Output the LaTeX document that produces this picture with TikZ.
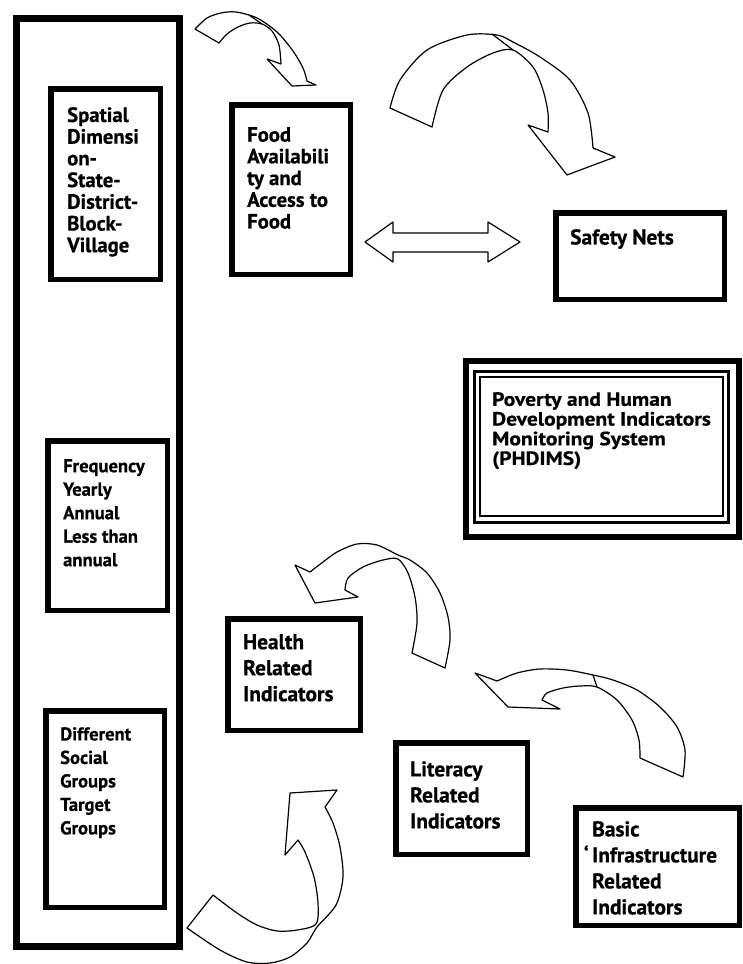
\documentclass[tikz,border=0pt]{standalone}
\usepackage{fontspec}
\setmainfont{PT Sans}[BoldFeatures={FakeBold=0.6}]
\newfontfamily\widefont{PT Sans Bold}[FakeStretch=1.12, FakeBold=0.6]
\begin{document}
\begin{tikzpicture}[x=1pt,y=-1pt,
  bx/.style={draw, line width=5.5pt, inner sep=0pt},
  tx/.style={inner sep=0pt, anchor=north west, align=left},
  fa/.style={font=\bfseries\fontsize{20.7}{21.7}\selectfont},
  fb/.style={font=\bfseries\fontsize{21.4}{26}\selectfont},
  fc/.style={font=\bfseries\fontsize{18.6}{23.5}\selectfont},
  fd/.style={font=\widefont\fontsize{19.2}{19.7}\selectfont},
  arr/.style={draw, fill=white, line width=1.2pt, line join=round},
  fold/.style={draw, line width=1.2pt}]
\useasboundingbox (0,0) rectangle (743,964);

% outer tall box
\node[draw, line width=7pt, minimum width=163pt, minimum height=928pt, inner sep=0pt] (outer) at (98,482.5) {};

% boxes
\node[bx, minimum width=109.5pt, minimum height=190.5pt] (spatialbox) at (105.5,184) {};
\node[bx, minimum width=118.5pt, minimum height=169.5pt] (foodbox) at (291,189.5) {};
\node[bx, minimum width=168.5pt, minimum height=86.5pt] (safetybox) at (640,256) {};
\node[bx, minimum width=119.5pt, minimum height=169.5pt] (freqbox) at (107.5,525.5) {};
\node[bx, minimum width=118.5pt, minimum height=196.5pt] (diffbox) at (105,809) {};
\node[bx, minimum width=132.5pt, minimum height=111.5pt] (healthbox) at (294,674.5) {};
\node[bx, minimum width=131.5pt, minimum height=111.5pt] (litbox) at (461.5,798.5) {};
\node[bx, minimum width=163.5pt, minimum height=117.5pt] (basicbox) at (657.5,866.5) {};

% PHDIMS triple frame
\node[draw, line width=6pt, minimum width=273pt, minimum height=176pt, inner sep=0pt] (phdbox) at (602.5,449) {};
\node[draw, line width=3pt, minimum width=254pt, minimum height=150.5pt, inner sep=0pt] (phdmid) at (601.5,446.75) {};
\node[draw, line width=2pt, minimum width=243pt, minimum height=138.5pt, inner sep=0pt] (phdin) at (601,446.25) {};

% texts
\node[tx, fa] (spatial) at (67,107) {Spatial\\Dimensi\\on-\\State-\\District-\\Block-\\Village};
\node[tx, fa] (food) at (247,127) {Food\\Availabili\\ty and\\Access to\\Food};
\node[tx, fb] (safety) at (570,229) {Safety Nets};
\node[tx, fd] (phdims) at (492,392) {Poverty and Human\\Development Indicators\\Monitoring System\\(PHDIMS)};
\node[tx, fc] (freq) at (63,459) {Frequency\\Yearly\\Annual\\Less than\\annual};
\node[tx, fc] (diff) at (60,727) {Different\\Social\\Groups\\Target\\Groups};
\node[tx, fb] (health) at (243,634) {Health\\Related\\Indicators};
\node[tx, fb] (literacy) at (410,761) {Literacy\\Related\\Indicators};
\node[tx, fb] (basic) at (592,821) {Basic\\\llap{\char96\,}Infrastructure\\Related\\Indicators};

% double arrow between Food and Safety Nets
\draw[arr] (365,242) -- (393,222) -- (393,233) -- (488,233) -- (488,222) -- (520,242)
  -- (488,262) -- (488,252) -- (393,252) -- (393,262) -- cycle;

% arrow 1 (outer box -> Food)
\draw[arr] (195,29) -- plot[smooth] coordinates {(195,29) (207,18) (221,13) (236,12) (257,18) (277,32) (293,51) (303,68) (307,81)}
  -- (316,85) -- (292,86) -- (267,59) -- (281,64)
  -- plot[smooth] coordinates {(281,64) (279,45) (272,31) (262,24) (250,23) (238,27) (227,34) (219,43)} -- cycle;
\draw[fold] (249,15) -- (262,24);

% arrow 2 (big, top right)
\draw[arr] (390,108) -- plot[smooth] coordinates {(390,108) (400,80) (427,50) (467,35) (497,35) (513,42) (540,57) (570,80) (588,113) (593,148)}
  -- (615,157) -- (567,175) -- (528,125) -- (548,132)
  -- plot[smooth] coordinates {(548,132) (548,113) (543,90) (533,67) (513,50) (493,53) (467,67) (443,90) (432,127)} -- cycle;
\draw[fold] (492,34) -- (513,50);

% arrow 3 (above Health)
\draw[arr] (445,668) -- plot[smooth] coordinates {(445,668) (450,640) (448,617) (440,593) (427,573) (410,560) (398,555) (377,545) (357,544) (337,552) (323,562) (310,572)}
  -- (295,565) -- (315,603) -- (358,597) -- (345,590)
  -- plot[smooth] coordinates {(345,590) (348,578) (363,567) (383,560) (398,559) (408,573) (415,597) (417,623) (412,653)} -- cycle;

% arrow 4 (between Literacy and Basic)
\draw[arr] (683,777) -- plot[smooth] coordinates {(683,777) (685,750) (677,727) (660,707) (637,690) (613,680) (593,675) (567,670) (540,669) (517,673) (497,681)}
  -- (475,673) -- (508,707) -- (560,709) -- (542,700)
  -- plot[smooth] coordinates {(542,700) (547,693) (563,688) (580,686) (597,687) (617,700) (632,720) (639,740) (640,758)} -- cycle;
\draw[fold] (593,675) -- (597,687);

% arrow 5 (bottom, towards Health)
\draw[arr] (187,928) -- (213,895)
  -- plot[smooth] coordinates {(213,895) (237,913) (257,925) (277,931) (297,930) (316,924) (318,903) (314,877) (305,852) (298,840)}
  -- (285,855) -- (290,793) -- (337,790) -- (325,807)
  -- plot[smooth] coordinates {(325,807) (333,823) (340,847) (343,877) (336,905) (317,927) (307,943) (290,957) (270,963) (247,962) (220,950) (187,928)} -- cycle;
\end{tikzpicture}
\end{document}
